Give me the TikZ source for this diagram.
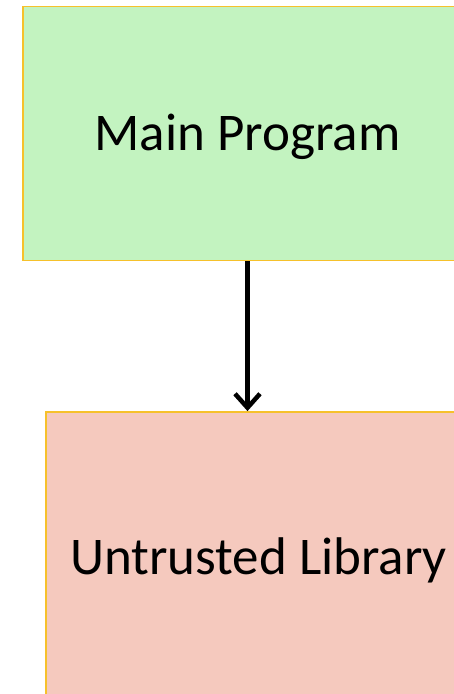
\documentclass[tikz,border=0pt]{standalone}
\usepackage{fontspec}
\setmainfont{Carlito}
\usetikzlibrary{arrows.meta}
\definecolor{mainfill}{HTML}{C3F3C0}
\definecolor{libfill}{HTML}{F5C9BE}
\definecolor{boxline}{HTML}{F6C12B}

\begin{document}
\begin{tikzpicture}[x=1pt, y=-1pt,
		block/.style={draw=boxline, line width=1.8pt, inner sep=0pt, font=\fontsize{53}{62}\selectfont, text height=34pt, text depth=0pt},
		flow/.style={line width=4.5pt, -{Straight Barb[length=14pt, width=25pt, line width=4.5pt]}}]
			%%%%% START %%%%%
			
			\useasboundingbox (0, 0) rectangle (454, 694);
			\clip (0, 0) rectangle (454, 694);
			
			\node[block, fill=mainfill, minimum width=449pt, minimum height=254pt] (prog) at (247.5, 133.5) {Main Program};
			\node[block, fill=libfill, minimum width=425pt, minimum height=291pt] (lib) at (258.5, 557.5) {Untrusted Library};
			
			\draw[flow] (prog.south) -- (prog.south |- lib.north);
			
			%%%%% END %%%%%
\end{tikzpicture}
\end{document}
